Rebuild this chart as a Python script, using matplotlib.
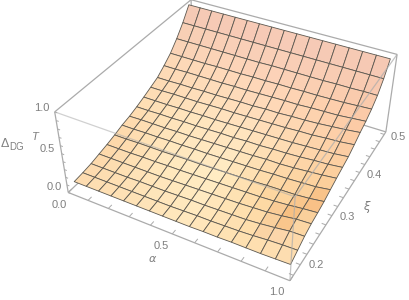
import numpy as np
import matplotlib
matplotlib.use("Agg")
import matplotlib.pyplot as plt

alpha = np.linspace(0, 0.98, 17)
xi = np.linspace(0.185, 0.5, 17)
delta = np.array([
 [.06,.06,.06,.06,.06,.06,.06,.06,.06,.06,.065,.065,.07,.07,.07,.075,.08],
 [.07,.07,.07,.07,.07,.07,.07,.07,.075,.08,.08,.085,.09,.10,.115,.125,.13],
 [.085,.085,.085,.085,.09,.09,.09,.095,.10,.10,.105,.11,.115,.13,.15,.175,.18],
 [.11,.11,.11,.11,.11,.11,.115,.12,.125,.13,.135,.14,.15,.16,.18,.205,.215],
 [.135,.135,.135,.14,.14,.145,.145,.15,.155,.16,.165,.17,.175,.185,.20,.22,.235],
 [.165,.165,.17,.17,.17,.175,.18,.18,.185,.19,.195,.20,.21,.215,.22,.235,.26],
 [.20,.20,.205,.205,.21,.21,.215,.215,.22,.225,.23,.235,.245,.25,.26,.27,.296],
 [.225,.23,.23,.23,.235,.235,.24,.245,.25,.255,.26,.27,.27,.28,.295,.31,.33],
 [.26,.26,.265,.265,.27,.27,.275,.28,.28,.29,.29,.30,.305,.315,.33,.34,.36],
 [.30,.30,.30,.305,.305,.31,.31,.315,.32,.325,.33,.335,.34,.35,.36,.37,.39],
 [.345,.345,.35,.35,.35,.355,.36,.36,.365,.37,.375,.38,.39,.395,.41,.42,.44],
 [.39,.39,.395,.395,.40,.40,.405,.41,.41,.42,.42,.43,.435,.445,.46,.475,.495],
 [.465,.465,.47,.47,.47,.47,.475,.475,.48,.485,.49,.49,.50,.505,.51,.525,.54],
 [.55,.55,.55,.55,.555,.555,.555,.56,.56,.565,.565,.57,.57,.575,.58,.59,.60],
 [.665,.665,.665,.665,.665,.665,.665,.665,.67,.67,.67,.67,.67,.675,.675,.68,.68],
 [.80,.80,.80,.80,.80,.80,.80,.80,.80,.80,.80,.80,.80,.80,.80,.80,.80],
 [.96,.96,.96,.96,.96,.96,.96,.96,.96,.96,.96,.96,.96,.96,.96,.96,.96],
])
alpha_major = [0.0, 0.5, 1.0]
xi_major = [0.2, 0.3, 0.4, 0.5]
z_major = [0.0, 0.5, 1.0]

A0, A1 = 0.0, 1.0
X0, X1 = 0.17, 0.507
Z0, Z1 = 0.0, 1.0
W, H = 409, 300

world = np.array([[A0,X0,Z0],[A1,X0,Z0],[A1,X1,Z0],[A0,X0,Z1],[A1,X0,Z1],[A1,X1,Z1],[A0,X1,Z1]], float)
pixels = np.array([[68,193],[290,280],[386,132],[55,111],[295,198],[397,54],[191,0]], float)

def fit_camera():
    rows = []
    for (a, b, c), (u, v) in zip(world, pixels):
        rows.append([a,b,c,1,0,0,0,0,-u*a,-u*b,-u*c,-u])
        rows.append([0,0,0,0,a,b,c,1,-v*a,-v*b,-v*c,-v])
    P = np.linalg.svd(np.array(rows))[2][-1].reshape(3, 4)
    if P[2] @ [0.5, 0.3, 0.5, 1] < 0:
        P = -P
    return P

CAM = fit_camera()

fig = plt.figure(figsize=(W/100, H/100), dpi=100)
ax = fig.add_axes([0, 0, 1, 1], projection="3d", computed_zorder=False)
ax.set_axis_off()
ax.apply_aspect = lambda position=None: None

def get_proj():
    inv = ax.transData.inverted()
    (x0, y0), (x1, y1) = inv.transform([(0, H), (W, 0)])
    T = np.array([[(x1-x0)/W, 0, x0], [0, (y1-y0)/H, y0], [0, 0, 1]])
    Q = T @ CAM
    Q = Q / np.abs(Q[2]).max()
    return np.array([Q[0], Q[1], [0, 0, 0, -1], Q[2]])
ax.get_proj = get_proj

anchors = np.array([
 [(253,220,176),(254,226,182),(255,232,190),(254,224,176),(253,220,176)],
 [(253,216,170),(255,232,190),(255,236,195),(253,214,160),(251,204,146)],
 [(254,222,180),(255,230,190),(255,228,190),(254,217,175),(252,203,156)],
 [(252,216,182),(254,217,185),(254,214,184),(253,208,174),(252,200,166)],
 [(243,197,180),(244,197,180),(244,199,182),(244,200,183),(244,200,184)],
], float) / 255
n = len(xi)
ri = np.linspace(0, 4, n)
cols = np.zeros((n, n, 3))
for ch in range(3):
    tmp = np.array([np.interp(ri, np.arange(5), anchors[:, j, ch]) for j in range(5)])
    for i in range(n):
        cols[i, :, ch] = np.interp(ri, np.arange(5), tmp[:, i])
for r, c, rgb in [(2,13,(250,208,156)),(2,14,(249,198,140)),(3,13,(250,204,150)),(3,14,(248,192,130)),(3,15,(250,208,155)),
                  (4,14,(250,198,140)),(4,15,(249,193,135)),(5,15,(249,195,137)),(1,13,(251,212,165)),(1,14,(252,214,170))]:
    cols[r, c] = np.array(rgb) / 255

AA, XX = np.meshgrid(alpha, xi)
ax.plot_surface(AA, XX, delta, facecolors=cols, shade=False, rstride=1, cstride=1,
                edgecolor="#5c5850", linewidth=0.6, antialiased=True, zorder=2)

BOX = "#ababab"
def seg(p, q, z=3, lw=0.9, c=BOX, al=1.0):
    ax.plot([p[0], q[0]], [p[1], q[1]], [p[2], q[2]], color=c, lw=lw, zorder=z, alpha=al, solid_capstyle="butt")

seg((A0,X1,Z0),(A1,X1,Z0),1); seg((A0,X0,Z0),(A0,X1,Z0),1); seg((A0,X1,Z0),(A0,X1,Z1),1)
seg((A1,X1,Z0),(A1,X1,Z1),1); seg((A0,X1,Z1),(A1,X1,Z1),1); seg((A0,X0,Z1),(A0,X1,Z1),1)
seg((A0,X0,Z0),(A0,X0,Z1),1); seg((A0,X0,Z0),(A1,X0,Z0),1); seg((A1,X0,Z0),(A1,X1,Z0),1)
seg((A0,X0,Z1),(A1,X0,Z1),3,al=0.55); seg((A1,X0,Z1),(A1,X1,Z1),3,al=0.7); seg((A1,X0,Z0),(A1,X0,Z1),3,al=0.7)

for a in np.arange(0, 1.01, 0.1):
    seg((a,X0,Z0),(a,X0+0.008,Z0),1,lw=0.7)
for x in np.arange(0.18, 0.501, 0.02):
    seg((A1,x,Z0),(A1-0.018,x,Z0),1,lw=0.7)
for zv in np.arange(0, 1.01, 0.1):
    seg((A0,X0,zv),(A0+0.012,X0,zv),1,lw=0.7)

ax.set_xlim(A0, A1); ax.set_ylim(X0, X1); ax.set_zlim(Z0, Z1)

TXT = "#7f7f7f"
FONT = "Liberation Sans"
def label(px, py, s, size=8, **kw):
    fig.text(px/W, 1-py/H, s, ha="center", va="center", color=TXT, fontsize=size, family=FONT, **kw)

for v, (px, py) in zip(z_major, [(54,187),(47,149),(42,108)]):
    label(px, py, f"{v:.1f}")
for v, (px, py) in zip(alpha_major, [(59,205),(161,246),(277,292)]):
    label(px, py, f"{v:.1f}")
for v, (px, py) in zip(xi_major, [(316,265),(347,217),(374,175),(398,137)]):
    label(px, py, f"{v:.1f}")
label(153, 259, r"$\alpha$", size=8, math_fontfamily="dejavusans")
label(367, 207, r"$\xi$", size=8.5, math_fontfamily="dejavusans")
label(5, 144, "Δ", size=9)
label(17, 147, "DG", size=7)
label(35, 137, "T", size=8, style="italic")

fig.savefig("out.png", dpi=100)
